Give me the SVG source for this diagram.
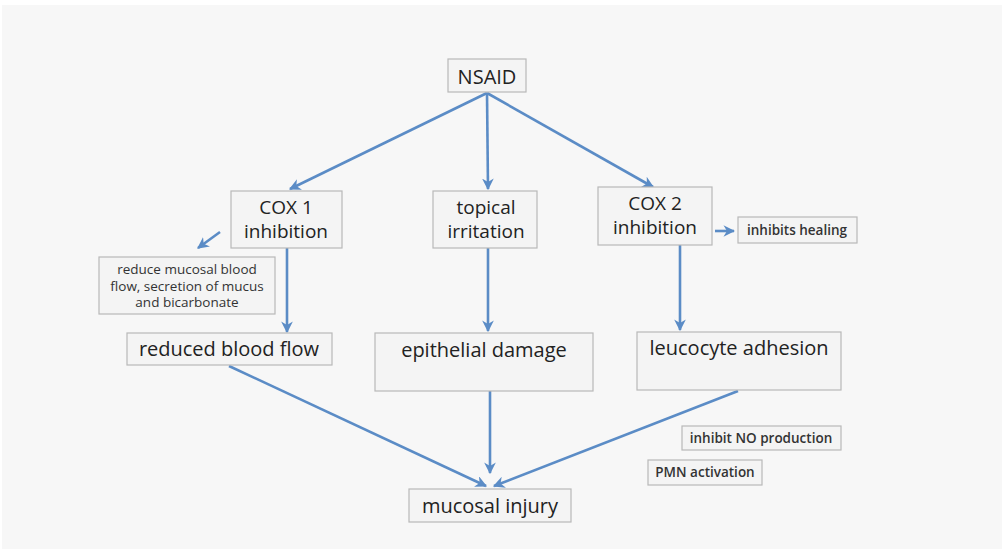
<svg xmlns="http://www.w3.org/2000/svg" width="1002" height="551" viewBox="0 0 1002 551">
<style>
.box{fill:#f4f4f4;stroke:#b8b8b8;stroke-width:1.2}
.big{font-family:"Open Sans","Noto Sans",sans-serif;font-size:20px;fill:#222;text-anchor:middle}
.two{font-family:"Open Sans","Noto Sans",sans-serif;font-size:19px;fill:#222;text-anchor:middle}
.small{font-family:"Open Sans","Noto Sans",sans-serif;font-size:13.5px;fill:#333;text-anchor:middle}
.sb{font-weight:600}
.conn line{stroke:#5b8cc6;stroke-width:2.6;marker-end:url(#ah)}
</style>
<defs>
<marker id="ah" viewBox="0 0 10 10" refX="9" refY="5" markerWidth="4.5" markerHeight="4.5" orient="auto" markerUnits="strokeWidth">
<path d="M0,0 L10,5 L0,10 L3,5 Z" fill="#5b8cc6"/>
</marker>
</defs>
<rect x="0" y="0" width="1002" height="551" fill="#ffffff"/>
<rect x="2" y="5" width="1000" height="544" fill="#f7f7f7"/>
<g class="conn">
<line x1="487" y1="93" x2="290" y2="189"/>
<line x1="487" y1="93" x2="488" y2="189"/>
<line x1="487" y1="93" x2="653" y2="187"/>
<line x1="220" y1="232" x2="198" y2="248"/>
<line x1="287" y1="248" x2="287" y2="332"/>
<line x1="488" y1="248" x2="488" y2="331"/>
<line x1="680" y1="245" x2="680" y2="330"/>
<line x1="715" y1="231" x2="734" y2="231"/>
<line x1="490" y1="391" x2="490" y2="473"/>
<line x1="229" y1="366" x2="486" y2="486"/>
<line x1="738" y1="391" x2="494" y2="486"/>
</g>
<g id="nsaid"><rect class="box" x="448" y="59" width="78" height="33"/><text class="big" x="487" y="84">NSAID</text></g>
<g id="cox1"><rect class="box" x="231" y="191" width="111" height="57"/><text class="two" x="286" y="214">COX 1</text><text class="two" x="286" y="238">inhibition</text></g>
<g id="topical"><rect class="box" x="433" y="191" width="104" height="57"/><text class="two" x="486" y="214">topical</text><text class="two" x="486" y="238">irritation</text></g>
<g id="cox2"><rect class="box" x="598" y="187" width="114" height="58"/><text class="two" x="655" y="210">COX 2</text><text class="two" x="655" y="234">inhibition</text></g>
<g id="healing"><rect class="box" x="738" y="217" width="119" height="26"/><text class="small sb" x="797" y="235">inhibits healing</text></g>
<g id="reduce"><rect class="box" x="99" y="257" width="176" height="57"/><text class="small" x="187" y="274">reduce mucosal blood</text><text class="small" x="187" y="291">flow, secretion of mucus</text><text class="small" x="187" y="307">and bicarbonate</text></g>
<g id="rbf"><rect class="box" x="127" y="333" width="205" height="32"/><text class="big" x="229" y="356">reduced blood flow</text></g>
<g id="epi"><rect class="box" x="375" y="333" width="218" height="58"/><text class="big" x="484" y="357">epithelial damage</text></g>
<g id="leuco"><rect class="box" x="637" y="332" width="204" height="58"/><text class="big" x="739" y="355">leucocyte adhesion</text></g>
<g id="no"><rect class="box" x="682" y="426" width="159" height="24"/><text class="small sb" x="761" y="443">inhibit NO production</text></g>
<g id="pmn"><rect class="box" x="648" y="460" width="114" height="25"/><text class="small sb" x="705" y="477">PMN activation</text></g>
<g id="injury"><rect class="box" x="409" y="489" width="162" height="33"/><text class="big" x="490" y="513">mucosal injury</text></g>
</svg>
